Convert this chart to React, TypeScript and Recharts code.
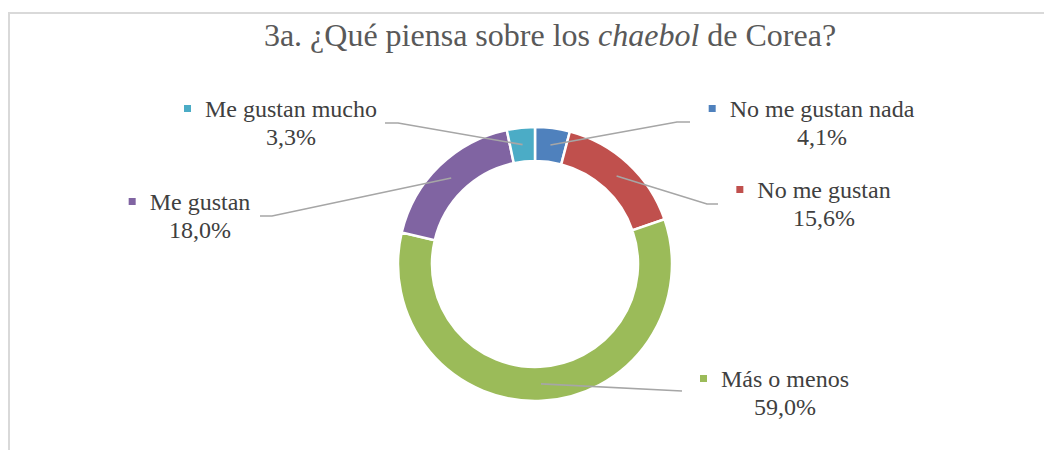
import React, { useLayoutEffect, useRef, useState } from 'react';
import { PieChart, Pie, Cell } from 'recharts';

const categories = ['No me gustan nada', 'No me gustan', 'Más o menos', 'Me gustan', 'Me gustan mucho'];
const shares = [4.1, 15.6, 59.0, 18.0, 3.3];
const colors = ['#4F81BD', '#C0504D', '#9BBB59', '#8064A2', '#4BACC6'];

// label layout, offsets relative to the pie centre
const labelLayout = [
  { ex: 142, ey: -142, hx: 155, tx: 287, ty: -147 },
  { ex: 172, ey: -60, hx: 183, tx: 289, ty: -66 },
  { ex: 147, ey: 127, hx: 147, tx: 250, ty: 123 },
  { ex: -263, ey: -48, hx: -275, tx: -335, ty: -54 },
  { ex: -137, ey: -141, hx: -150, tx: -244, ty: -147 },
];

const data = categories.map((name, i) => ({ name, value: shares[i] }));

const RAD = Math.PI / 180;
const FONT = '"Liberation Serif", "Times New Roman", serif';

function SliceLabel(props: any) {
  const { cx, cy, midAngle, innerRadius, outerRadius, index, name, value } = props;
  const lay = labelLayout[index];
  const ref = useRef<SVGTextElement>(null);
  const [w, setW] = useState(0);
  useLayoutEffect(() => {
    if (ref.current) setW(ref.current.getComputedTextLength());
  }, [name]);
  const r = (innerRadius + outerRadius) / 2;
  const sx = cx + r * Math.cos(-midAngle * RAD);
  const sy = cy + r * Math.sin(-midAngle * RAD);
  const ex = cx + lay.ex;
  const ey = cy + lay.ey;
  const hx = cx + lay.hx;
  const tx = cx + lay.tx;
  const ty = cy + lay.ty;
  const pct = Number(value).toFixed(1).replace('.', ',') + '%';
  return (
    <g>
      <polyline
        points={`${sx},${sy} ${ex},${ey} ${hx},${ey}`}
        fill="none"
        stroke="#A6A6A6"
        strokeWidth={1.6}
      />
      <rect x={tx - w / 2 - 14 - 7} y={ty - 12} width={7} height={7} fill={colors[index]} />
      <text ref={ref} x={tx} y={ty} textAnchor="middle" fontFamily={FONT} fontSize={24} fill="#404040">
        {name}
      </text>
      <text x={tx} y={ty + 28} textAnchor="middle" fontFamily={FONT} fontSize={24} fill="#404040">
        {pct}
      </text>
    </g>
  );
}

export default function App() {
  return (
    <div style={{ position: 'relative', width: 1044, height: 442, overflow: 'hidden', background: '#fff' }}>
      <div
        style={{
          position: 'absolute',
          left: 0,
          top: 4,
          width: 1200,
          height: 600,
          borderTop: '2px solid #D9D9D9',
          borderLeft: '2px solid #D9D9D9',
          boxSizing: 'border-box',
        }}
      />
      <div
        style={{
          position: 'absolute',
          left: 0,
          top: 11,
          width: 1084,
          textAlign: 'center',
          fontFamily: FONT,
          fontSize: 32,
          lineHeight: '32px',
          color: '#595959',
          whiteSpace: 'nowrap',
        }}
      >
        3a. ¿Qué piensa sobre los <i>chaebol</i> de Corea?
      </div>
      <div style={{ position: 'absolute', left: 0, top: 0 }}>
        <PieChart width={1044} height={442} margin={{ top: 0, right: 0, bottom: 0, left: 0 }}>
          <Pie
            data={data}
            dataKey="value"
            nameKey="name"
            cx={527}
            cy={256}
            innerRadius={103}
            outerRadius={137}
            startAngle={90}
            endAngle={-270}
            stroke="#FFFFFF"
            strokeWidth={2.5}
            isAnimationActive={false}
            labelLine={false}
            label={(p: any) => <SliceLabel {...p} />}
          >
            {data.map((d, i) => (
              <Cell key={d.name} fill={colors[i]} />
            ))}
          </Pie>
        </PieChart>
      </div>
    </div>
  );
}
